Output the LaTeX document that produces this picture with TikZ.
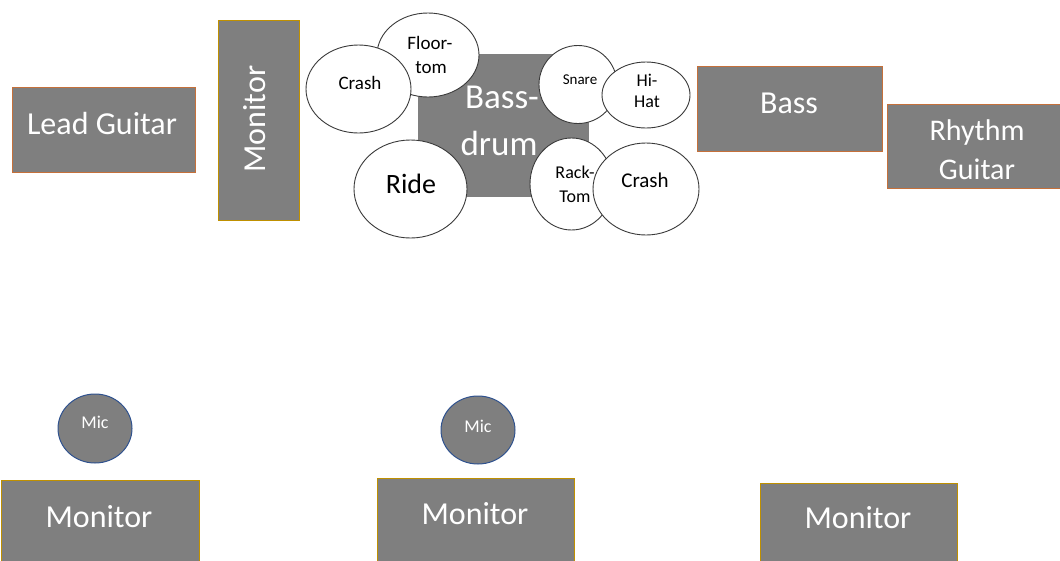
\documentclass[tikz,border=0pt]{standalone}
\usepackage{fontspec}
\setmainfont{Carlito}
\usetikzlibrary{shapes.geometric}
\definecolor{boxgray}{HTML}{7F7F7F}
\definecolor{orangeedge}{HTML}{C5703A}
\definecolor{goldedge}{HTML}{BF9000}
\definecolor{micedge}{HTML}{2F528F}
\definecolor{drumedge}{HTML}{3A3A3A}
\tikzset{
  box/.style={draw, line width=1pt, fill=boxgray, rectangle, inner sep=0pt},
  playerbox/.style={box, draw=orangeedge},
  monbox/.style={box, draw=goldedge},
  drumshell/.style={draw=drumedge, line width=0.9pt, fill=white, ellipse, inner sep=0pt},
  micshell/.style={draw=micedge, line width=1pt, fill=boxgray, ellipse, inner sep=0pt},
  wtext/.style={text=white, inner sep=0pt, align=center, anchor=base},
  btext/.style={text=black, inner sep=0pt, align=center, anchor=base},
  fs/.style={font=\fontsize{#1}{#1}\selectfont},
}
\begin{document}
\begin{tikzpicture}[x=1pt,y=-1pt]
\useasboundingbox (0,0) rectangle (1060,560);
\clip (0,0) rectangle (1060,560);

% Lead guitar
\node[playerbox, minimum width=183pt, minimum height=85pt] (lead) at (103.5,129.5) {};
\node[wtext, fs=32] (leadt) at (102,134) {Lead Guitar};

% Side monitor (vertical)
\node[monbox, minimum width=81pt, minimum height=200pt] (sidemon) at (258.5,120) {};
\node[text=white, inner sep=0pt, rotate=90, anchor=base, fs=32] (sidemont) at (265,119) {Monitor};

% Bass drum
\node[box, draw=none, minimum width=171pt, minimum height=143pt] (bassdrum) at (503.5,125.5) {};
\node[wtext, fs=35] (bassdrumt1) at (502,108) {Bass-};
\node[wtext, fs=35] (bassdrumt2) at (499,155) {drum};

% Floor tom and crash (left)
\node[drumshell, minimum width=102pt, minimum height=84pt] (floortom) at (428,55) {};
\node[btext, fs=19] (floortomt1) at (430,49) {Floor-};
\node[btext, fs=19] (floortomt2) at (431,73) {tom};
\node[drumshell, minimum width=105pt, minimum height=88pt] (crashl) at (358.5,89) {};
\node[btext, fs=19] (crashlt) at (360,89) {Crash};

% Ride
\node[drumshell, minimum width=113pt, minimum height=98pt] (ride) at (410.5,189) {};
\node[btext, fs=28] (ridet) at (411,193) {Ride};

% Snare and hi-hat
\node[drumshell, minimum width=78pt, minimum height=78pt] (snare) at (578,84.5) {};
\node[btext, fs=15] (snaret) at (580,84) {Snare};
\node[drumshell, minimum width=88pt, minimum height=66pt] (hihat) at (646,95) {};
\node[btext, fs=18] (hihatt) at (647,107) {Hi-\\[3pt]Hat};

% Rack tom and crash (right)
\node[drumshell, minimum width=83pt, minimum height=92pt] (racktom) at (571.5,184) {};
\node[btext, fs=18] (racktomt) at (575,202) {Rack-\\[6pt]Tom};
\node[drumshell, minimum width=106pt, minimum height=92pt] (crashr) at (646,189) {};
\node[btext, fs=21] (crashrt) at (645,187) {Crash};

% Bass
\node[playerbox, minimum width=185pt, minimum height=85pt] (bass) at (789.5,109) {};
\node[wtext, fs=32] (basst) at (789,113) {Bass};

% Rhythm guitar
\node[playerbox, minimum width=175pt, minimum height=84pt] (rhythm) at (974.5,146) {};
\node[wtext, fs=30] (rhythmt) at (977,179) {Rhythm\\[9pt]Guitar};

% Mics
\node[micshell, minimum width=74pt, minimum height=69pt] (mic1) at (95,428.5) {};
\node[wtext, fs=18] (mic1t) at (95,428) {Mic};
\node[micshell, minimum width=74pt, minimum height=68pt] (mic2) at (478,430) {};
\node[wtext, fs=18] (mic2t) at (478,432) {Mic};

% Bottom monitors
\node[monbox, minimum width=198pt, minimum height=100pt] (mon1) at (100,530) {};
\node[wtext, fs=32] (mon1t) at (99,527) {Monitor};
\node[monbox, minimum width=197pt, minimum height=100pt] (mon2) at (475.5,528) {};
\node[wtext, fs=32] (mon2t) at (475,524) {Monitor};
\node[monbox, minimum width=197pt, minimum height=100pt] (mon3) at (858.5,533) {};
\node[wtext, fs=32] (mon3t) at (858,528) {Monitor};
\end{tikzpicture}
\end{document}
